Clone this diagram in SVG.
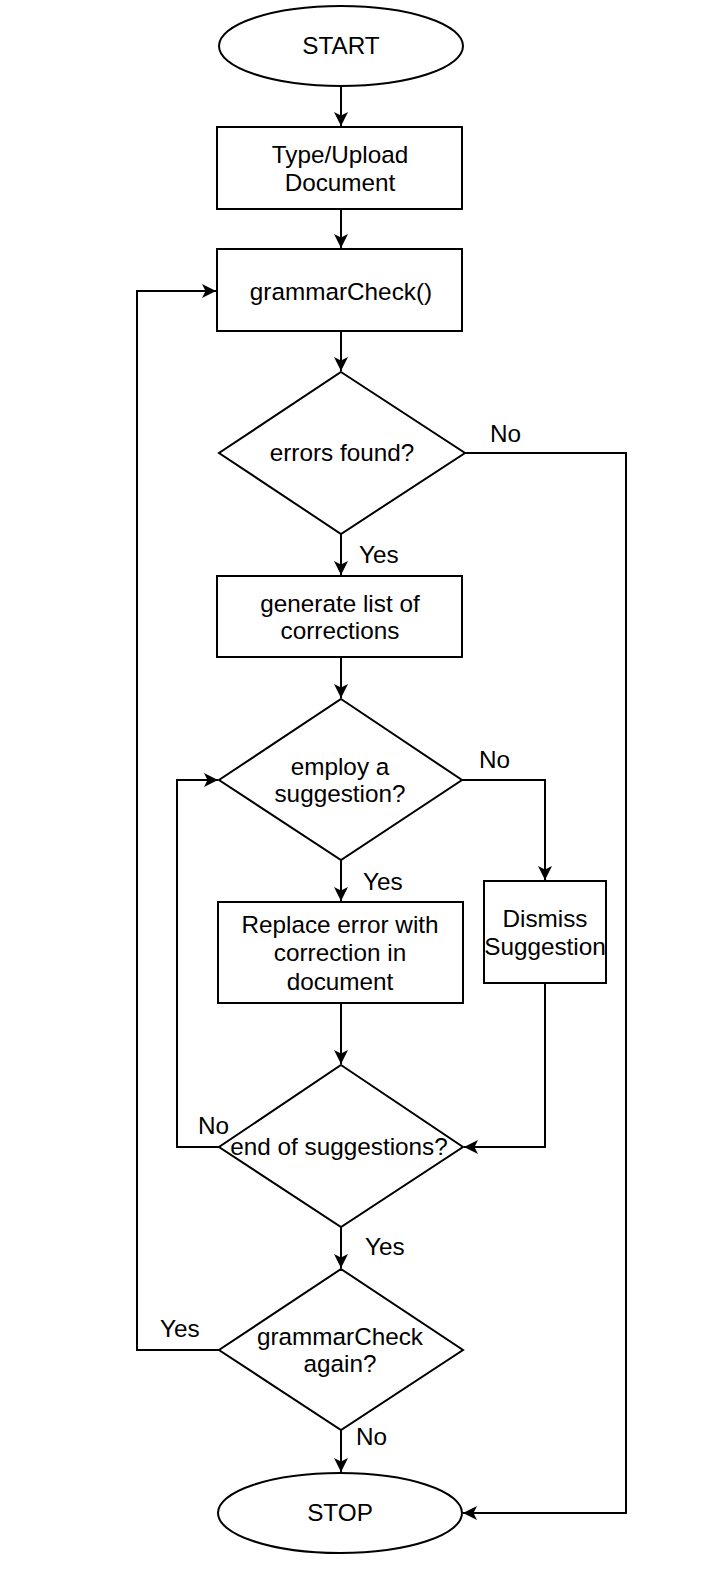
<svg xmlns="http://www.w3.org/2000/svg" width="716" height="1569" viewBox="0 0 716 1569">
<style>
.s{fill:#fff;stroke:#000;stroke-width:2}
.t{font-family:"Liberation Sans",Arial,sans-serif;font-size:24.3px;fill:#000;text-anchor:middle}
.l{font-family:"Liberation Sans",Arial,sans-serif;font-size:24.3px;fill:#000}
.c{fill:none;stroke:#000;stroke-width:2}
</style>
<defs>
<marker id="a" markerUnits="userSpaceOnUse" markerWidth="16" markerHeight="16" refX="14" refY="8" orient="auto">
<path d="M0,1 L14,8 L0,15 L3.5,8 z" fill="#000"/>
</marker>
</defs>
<rect width="716" height="1569" fill="#fff"/>
<g id="connectors">
<path class="c" d="M341,86 V126" marker-end="url(#a)"/>
<path class="c" d="M341,209 V248" marker-end="url(#a)"/>
<path class="c" d="M341,331 V371" marker-end="url(#a)"/>
<path class="c" d="M341,534 V575" marker-end="url(#a)"/>
<path class="c" d="M341,657 V698" marker-end="url(#a)"/>
<path class="c" d="M341,860 V901" marker-end="url(#a)"/>
<path class="c" d="M341,1003 V1064" marker-end="url(#a)"/>
<path class="c" d="M341,1227 V1268" marker-end="url(#a)"/>
<path class="c" d="M341,1430 V1472" marker-end="url(#a)"/>
<path class="c" d="M465,453 H626 V1513 H463" marker-end="url(#a)"/>
<path class="c" d="M462,780 H545 V880" marker-end="url(#a)"/>
<path class="c" d="M545,983 V1147 H464" marker-end="url(#a)"/>
<path class="c" d="M219,1147 H177 V780 H218" marker-end="url(#a)"/>
<path class="c" d="M219,1350 H137 V291 H216" marker-end="url(#a)"/>
<text class="l" x="490" y="442">No</text>
<text class="l" x="359" y="563">Yes</text>
<text class="l" x="479" y="768">No</text>
<text class="l" x="363" y="890">Yes</text>
<text class="l" x="198" y="1134">No</text>
<text class="l" x="365" y="1255">Yes</text>
<text class="l" x="160" y="1337">Yes</text>
<text class="l" x="356" y="1445">No</text>
</g>
<g id="start">
<ellipse class="s" cx="341" cy="46" rx="122" ry="40"/>
<text class="t" x="341" y="54">START</text>
</g>
<g id="upload">
<rect class="s" x="217" y="127" width="245" height="82"/>
<text class="t" x="340" y="163">Type/Upload</text>
<text class="t" x="340" y="191">Document</text>
</g>
<g id="grammarcheck">
<rect class="s" x="217" y="249" width="245" height="82"/>
<text class="t" x="341" y="300">grammarCheck()</text>
</g>
<g id="errors">
<polygon class="s" points="341,372 465,453 341,534 219,453"/>
<text class="t" x="342" y="461">errors found?</text>
</g>
<g id="generate">
<rect class="s" x="217" y="576" width="245" height="81"/>
<text class="t" x="340" y="612">generate list of</text>
<text class="t" x="340" y="639">corrections</text>
</g>
<g id="employ">
<polygon class="s" points="341,699 462,780 341,860 219,780"/>
<text class="t" x="340" y="775">employ a</text>
<text class="t" x="340" y="802">suggestion?</text>
</g>
<g id="replace">
<rect class="s" x="218" y="902" width="245" height="101"/>
<text class="t" x="340" y="933">Replace error with</text>
<text class="t" x="340" y="961">correction in</text>
<text class="t" x="340" y="990">document</text>
</g>
<g id="dismiss">
<rect class="s" x="484" y="881" width="122" height="102"/>
<text class="t" x="545" y="927">Dismiss</text>
<text class="t" x="545" y="955">Suggestion</text>
</g>
<g id="end">
<polygon class="s" points="341,1065 463,1147 341,1227 219,1147"/>
<text class="t" x="339" y="1155">end of suggestions?</text>
</g>
<g id="again">
<polygon class="s" points="341,1269 463,1350 341,1430 219,1350"/>
<text class="t" x="340" y="1345">grammarCheck</text>
<text class="t" x="340" y="1372">again?</text>
</g>
<g id="stop">
<ellipse class="s" cx="340" cy="1513" rx="122" ry="40"/>
<text class="t" x="340" y="1521">STOP</text>
</g>
</svg>
